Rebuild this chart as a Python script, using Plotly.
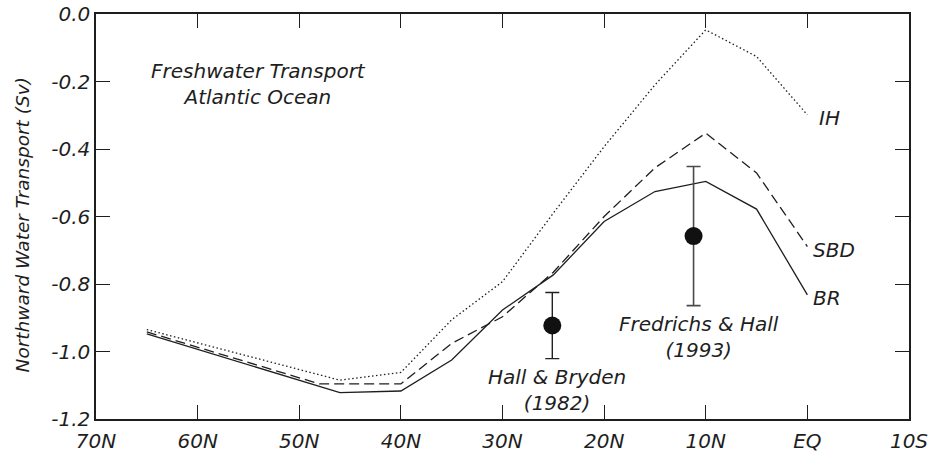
import plotly.graph_objects as go

# Latitudes (positive = N, negative = S)
ih_lat = [65, 46, 40, 35, 30, 25, 20, 15, 10, 5, 0]
ih_val = [-0.935, -1.085, -1.062, -0.906, -0.793, -0.59, -0.393, -0.21, -0.047, -0.126, -0.299]

sbd_lat = [65, 48, 40, 35, 30, 25, 20, 15, 10, 5, 0]
sbd_val = [-0.942, -1.096, -1.096, -0.976, -0.897, -0.765, -0.60, -0.456, -0.353, -0.471, -0.689]

br_lat = [65, 46, 40, 35, 30, 25, 20, 15, 10, 5, 0]
br_val = [-0.948, -1.122, -1.117, -1.025, -0.877, -0.773, -0.615, -0.526, -0.496, -0.578, -0.832]

obs_hb_lat = [25.1]
obs_hb_val = [-0.923]
obs_hb_err = [0.098]

obs_fh_lat = [11.2]
obs_fh_val = [-0.658]
obs_fh_err = [0.206]

x_tickvals = [70, 60, 50, 40, 30, 20, 10, 0, -10]
x_ticktext = ["70N", "60N", "50N", "40N", "30N", "20N", "10N", "EQ", "10S"]
y_tickvals = [0.0, -0.2, -0.4, -0.6, -0.8, -1.0, -1.2]
y_ticktext = ["0.0", "-0.2", "-0.4", "-0.6", "-0.8", "-1.0", "-1.2"]

INK = "#1e1e1e"
FONT = dict(family="DejaVu Sans", size=20, color=INK, style="italic")

fig = go.Figure()

fig.add_trace(go.Scatter(x=ih_lat, y=ih_val, mode="lines",
                         line=dict(color=INK, width=1.3, dash="1.5px,2.5px"),
                         showlegend=False, hoverinfo="skip"))
fig.add_trace(go.Scatter(x=sbd_lat, y=sbd_val, mode="lines",
                         line=dict(color=INK, width=1.3, dash="10px,5px"),
                         showlegend=False, hoverinfo="skip"))
fig.add_trace(go.Scatter(x=br_lat, y=br_val, mode="lines",
                         line=dict(color=INK, width=1.3),
                         showlegend=False, hoverinfo="skip"))

fig.add_trace(go.Scatter(x=obs_hb_lat, y=obs_hb_val, mode="markers",
                         marker=dict(size=18, color="#111111"),
                         error_y=dict(type="data", array=obs_hb_err, visible=True,
                                      color="#222222", thickness=1.4, width=7),
                         showlegend=False, hoverinfo="skip"))
fig.add_trace(go.Scatter(x=obs_fh_lat, y=obs_fh_val, mode="markers",
                         marker=dict(size=18, color="#111111"),
                         error_y=dict(type="data", array=obs_fh_err, visible=True,
                                      color="#4a4a4a", thickness=1.6, width=7),
                         showlegend=False, hoverinfo="skip"))

annotations = [
    dict(x=54.05, y=-0.208, text="Freshwater Transport<br>Atlantic Ocean",
         xanchor="center", yanchor="middle"),
    dict(x=-0.93, y=-0.308, text="IH", xanchor="left", yanchor="middle"),
    dict(x=-0.34, y=-0.699, text="SBD", xanchor="left", yanchor="middle"),
    dict(x=-0.34, y=-0.842, text="BR", xanchor="left", yanchor="middle"),
    dict(x=10.66, y=-0.956, text="Fredrichs & Hall<br>(1993)",
         xanchor="center", yanchor="middle"),
    dict(x=24.6, y=-1.114, text="Hall & Bryden<br>(1982)",
         xanchor="center", yanchor="middle"),
]
for a in annotations:
    a.update(xref="x", yref="y", showarrow=False, font=FONT, align="center")
    fig.add_annotation(**a)

fig.add_annotation(xref="paper", yref="paper", x=-0.091, y=0.478,
                   text="Northward Water Transport (Sv)", textangle=-90,
                   showarrow=False, xanchor="center", yanchor="middle",
                   font=dict(family="DejaVu Sans", size=18.5, color=INK, style="italic"))

axis_common = dict(showgrid=False, zeroline=False, showline=True, linecolor=INK,
                   linewidth=1.5, ticks="inside", ticklen=14, tickwidth=1.3,
                   tickcolor=INK, mirror="ticks", tickfont=FONT, automargin=False)

fig.update_xaxes(range=[70, -10], tickvals=x_tickvals, ticktext=x_ticktext,
                 ticklabelstandoff=3, **axis_common)
fig.update_yaxes(range=[-1.2, 0.0], tickvals=y_tickvals, ticktext=y_ticktext,
                 **axis_common)

fig.update_layout(width=934, height=454,
                  margin=dict(l=96, r=25, t=14, b=35),
                  paper_bgcolor="white", plot_bgcolor="white")

fig.write_html("out.html", config={"displayModeBar": False},
               post_script="document.body.style.margin='0';document.body.style.padding='0';document.body.style.overflow='hidden';")
